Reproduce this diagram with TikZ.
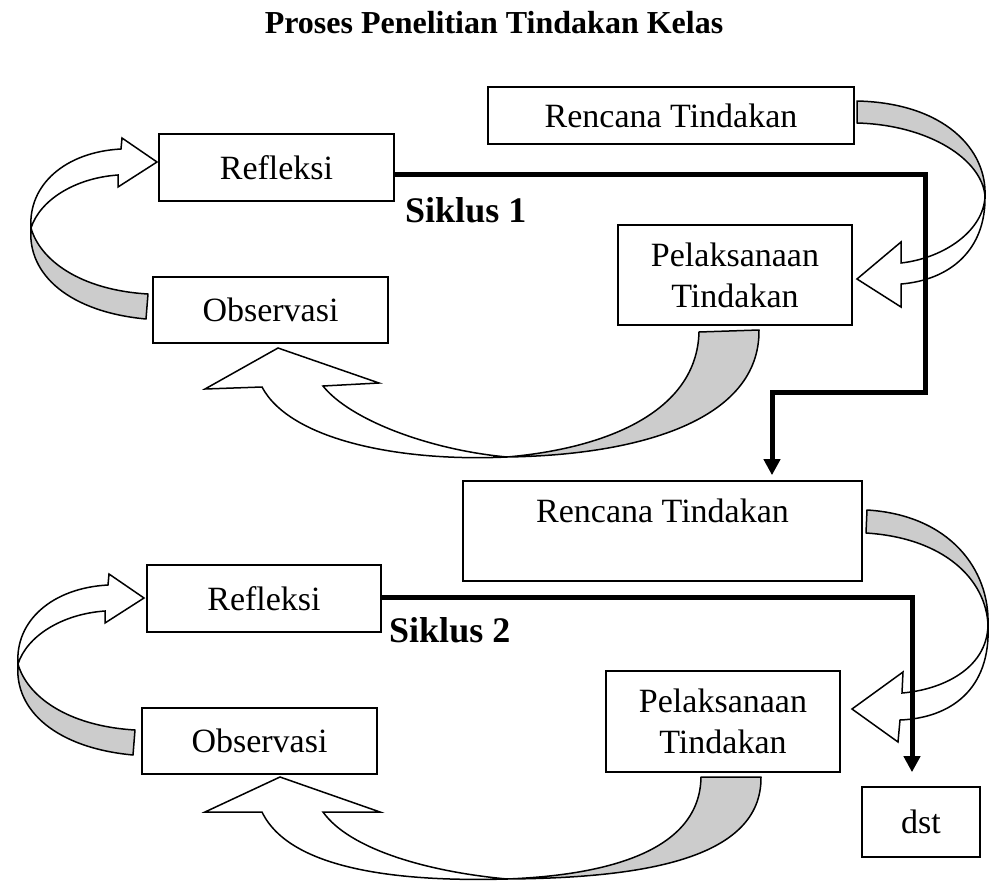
\documentclass[tikz,border=0pt]{standalone}
\usepackage{fontspec}
\setmainfont{Liberation Serif}
\usetikzlibrary{arrows.meta,calc}
\definecolor{ribbongray}{RGB}{204,204,204}
\begin{document}
\begin{tikzpicture}[x=1pt,y=-1pt,
  box/.style={draw, line width=1.6pt, inner sep=0pt, font=\fontsize{34}{41}\selectfont, align=center},
  ribback/.style={draw, line width=1.5pt, fill=ribbongray, line join=round},
  ribfront/.style={draw, line width=1.5pt, fill=white, line join=miter},
  flow/.style={line width=5pt, -{Triangle[width=16pt,length=16pt]}, line join=miter},
  cyc/.style={font=\fontsize{36}{40}\selectfont\bfseries, anchor=base west, inner sep=0pt}]
\useasboundingbox (0,0) rectangle (989,881);

% title
\node[font=\fontsize{32}{36}\selectfont\bfseries, anchor=base, inner sep=0pt] (title) at (494,33) {Proses Penelitian Tindakan Kelas};

% ---------- ribbons, cycle 1 ----------
% right: Rencana -> Pelaksanaan
\draw[ribback] (857,101) .. controls (945,103) and (987,150) .. (985,196)
  .. controls (982,160) and (930,125) .. (857,123) -- cycle;
\draw[ribfront] (985,196) .. controls (984,230) and (945,258) .. (901,263)
  -- (901,242) -- (857,279) -- (901,307) -- (901,284)
  .. controls (950,280) and (986,250) .. (985,196) -- cycle;
% bottom: Pelaksanaan -> Observasi
\draw[ribback] (699,332) -- (759,330) .. controls (760,420) and (640,455) .. (507,457)
  .. controls (610,448) and (697,410) .. (699,332) -- cycle;
\draw[ribfront] (507,457) .. controls (400,462) and (290,440) .. (262,387)
  -- (205,389) -- (278,348) -- (379,383) -- (323,386)
  .. controls (350,420) and (430,450) .. (507,457) -- cycle;
% left: Observasi -> Refleksi
\draw[ribback] (146,319) .. controls (70,312) and (27,275) .. (31,228)
  .. controls (40,260) and (80,290) .. (148,294) -- cycle;
\draw[ribfront] (31,228) .. controls (28,185) and (65,152) .. (121,149)
  -- (122,138) -- (157,162) -- (118,187) -- (118,175)
  .. controls (75,178) and (40,200) .. (31,228) -- cycle;

% ---------- ribbons, cycle 2 ----------
\draw[ribback] (867,510) .. controls (950,515) and (990,570) .. (988,625)
  .. controls (986,580) and (945,538) .. (866,533) -- cycle;
\draw[ribfront] (988,625) .. controls (987,670) and (940,690) .. (902,693)
  -- (903,672) -- (852,709) -- (898,742) -- (900,720)
  .. controls (950,718) and (991,690) .. (988,625) -- cycle;
\draw[ribback] (701,777) -- (761,777) .. controls (762,860) and (640,878) .. (507,879)
  .. controls (610,875) and (700,850) .. (701,777) -- cycle;
\draw[ribfront] (507,879) .. controls (400,882) and (290,870) .. (262,812)
  -- (205,812) -- (280,777) -- (380,812) -- (323,812)
  .. controls (350,850) and (430,872) .. (507,879) -- cycle;
\begin{scope}[shift={(-13,436)}]
\draw[ribback] (146,319) .. controls (70,312) and (27,275) .. (31,228)
  .. controls (40,260) and (80,290) .. (148,294) -- cycle;
\draw[ribfront] (31,228) .. controls (28,185) and (65,152) .. (121,149)
  -- (122,138) -- (157,162) -- (118,187) -- (118,175)
  .. controls (75,178) and (40,200) .. (31,228) -- cycle;
\end{scope}

% ---------- boxes ----------
\node[box, minimum width=366pt, minimum height=57pt] (ren1) at (671,115.5) {Rencana Tindakan};
\node[box, minimum width=235pt, minimum height=67pt] (refl1) at (276.5,167.5) {Refleksi};
\node[box, minimum width=234pt, minimum height=100pt] (pel1) at (735,275) {Pelaksanaan\\Tindakan};
\node[box, minimum width=235pt, minimum height=66pt] (obs1) at (270.5,310) {Observasi};

\node[box, minimum width=399pt, minimum height=100pt] (ren2) at (662.5,531) {Rencana Tindakan\\\mbox{}};
\node[box, minimum width=234pt, minimum height=67pt] (refl2) at (264,598.5) {Refleksi};
\node[box, minimum width=234pt, minimum height=101pt] (pel2) at (723,721.5) {Pelaksanaan\\Tindakan};
\node[box, minimum width=235pt, minimum height=66pt] (obs2) at (259.5,741) {Observasi};
\node[box, minimum width=118pt, minimum height=70pt] (dst) at (921,822) {dst};

\node[cyc] (s1) at (405,222) {Siklus 1};
\node[cyc] (s2) at (389,642) {Siklus 2};

% ---------- flow lines ----------
\coordinate (k1) at (925,174);
\coordinate (k2) at (925,392);
\coordinate (k3) at (772,392);
\draw[flow] ($(refl1.east)+(0,6.5)$) -- (k1) -- (k2) -- (k3) -- ($(k3 |- ren2.north)+(0,-5)$);
\coordinate (k4) at (912,597);
\draw[flow] ($(refl2.east)+(0,-1.5)$) -- (k4) -- ($(k4 |- dst.north)+(0,-14)$);
\end{tikzpicture}
\end{document}
